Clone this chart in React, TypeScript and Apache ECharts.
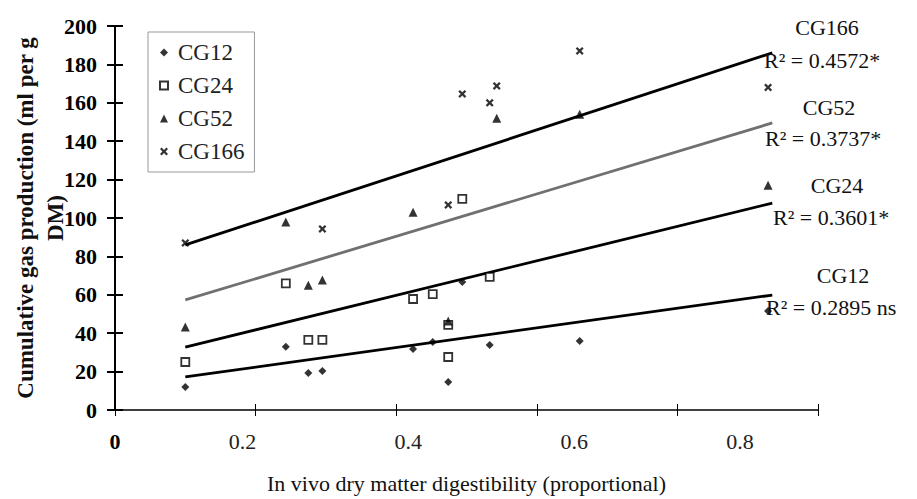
import React, { useEffect, useRef } from 'react';
import * as echarts from 'echarts';

const seriesNames = ['CG12', 'CG24', 'CG52', 'CG166'];

const cg12X = [0.10, 0.243, 0.275, 0.295, 0.424, 0.452, 0.474, 0.494, 0.533, 0.661, 0.929];
const cg12Y = [12, 33, 19.3, 20.3, 31.8, 35.4, 14.6, 66.7, 33.9, 35.9, 51.6];

const cg24X = [0.10, 0.243, 0.275, 0.295, 0.424, 0.452, 0.474, 0.474, 0.494, 0.533];
const cg24Y = [25, 66, 36.5, 36.5, 57.8, 60.4, 44.3, 27.6, 110, 69.3];

const cg52X = [0.10, 0.243, 0.275, 0.295, 0.424, 0.474, 0.543, 0.661, 0.929];
const cg52Y = [43.2, 97.9, 65, 67.7, 103, 46.4, 152, 154, 117];

const cg166X = [0.10, 0.295, 0.474, 0.494, 0.533, 0.543, 0.661, 0.929];
const cg166Y = [87, 94.3, 106.8, 164.6, 160, 168.8, 187, 168];

// regression lines: y = intercept + slope * x, drawn over the observed x range
const fitSlope = [51.1, 89.8, 110.4, 119.8];
const fitIntercept = [12.1, 23.8, 46.3, 74.0];
const fitXRange = [0.10, 0.935];

const xTickLabels = ['0', '0.2', '0.4', '0.6', '0.8'];
const yMin = 0;
const yMax = 200;
const yStep = 20;

const annotationNames = ['CG166', 'CG52', 'CG24', 'CG12'];
const annotationR2 = ['R\u00B2 = 0.4572*', 'R\u00B2 = 0.3737*', 'R\u00B2 = 0.3601*', 'R\u00B2 = 0.2895 ns'];

const FONT = '"Liberation Serif", "Times New Roman", serif';
const crossPath = 'path://M2,0 L5,3 L8,0 L10,2 L7,5 L10,8 L8,10 L5,7 L2,10 L0,8 L3,5 L0,2 Z';

export default function App() {
  const ref = useRef<HTMLDivElement>(null);

  useEffect(() => {
    if (!ref.current) return;
    const chart = echarts.init(ref.current, undefined, { renderer: 'svg' });

    const xs = [cg12X, cg24X, cg52X, cg166X];
    const ys = [cg12Y, cg24Y, cg52Y, cg166Y];
    const symbols = ['diamond', 'rect', 'triangle', crossPath];
    const sizes = [8, 8, 9, 8];

    const scatterSeries = seriesNames.map((name, i) => ({
      name,
      type: 'scatter',
      xAxisIndex: 0,
      yAxisIndex: 0,
      symbol: symbols[i],
      symbolSize: sizes[i],
      itemStyle:
        i === 1
          ? { color: '#fff', borderColor: '#000', borderWidth: 1.8 }
          : { color: '#000' },
      data: xs[i].map((x, k) => [x, ys[i][k]]),
      z: 5,
    }));

    const lineColors = ['#000', '#000', '#707070', '#000'];
    const lineSeries = seriesNames.map((name, i) => ({
      name: name + ' fit',
      type: 'line',
      xAxisIndex: 0,
      yAxisIndex: 0,
      symbol: 'none',
      silent: true,
      lineStyle: { color: lineColors[i], width: 2.8 },
      data: fitXRange.map((x) => [x, fitIntercept[i] + fitSlope[i] * x]),
      z: 3,
    }));

    const annX = [827, 829, 837, 843];
    const annY = [27, 107, 185, 275];
    const r2X = [764, 765, 773, 766];
    const r2Y = [60, 138, 217, 307];
    const graphics: any[] = [];
    annotationNames.forEach((t, i) => {
      graphics.push({
        type: 'text',
        x: annX[i],
        y: annY[i],
        style: { text: t, font: `22px ${FONT}`, fill: '#111', align: 'center', verticalAlign: 'middle' },
        z: 10,
      });
      graphics.push({
        type: 'text',
        x: r2X[i],
        y: r2Y[i],
        style: { text: annotationR2[i], font: `22px ${FONT}`, fill: '#111', align: 'left', verticalAlign: 'middle' },
        z: 10,
      });
    });

    const option: any = {
      animation: false,
      backgroundColor: '#fff',
      textStyle: { fontFamily: FONT },
      grid: [
        { left: 115, right: 99, top: 26, bottom: 89, containLabel: false, outerBoundsMode: 'none' },
        { left: 76.5, right: 11, top: 26, bottom: 89, containLabel: false, outerBoundsMode: 'none' },
      ],
      legend: {
        data: seriesNames,
        orient: 'vertical',
        left: 148,
        top: 32,
        padding: [8, 10, 8, 11],
        itemGap: 8,
        itemWidth: 8,
        itemHeight: 8,
        borderColor: '#999',
        borderWidth: 1,
        backgroundColor: '#fff',
        textStyle: { fontFamily: FONT, fontSize: 23, color: '#222', lineHeight: 25, padding: [0, 0, 0, 5] },
      },
      xAxis: [
        {
          type: 'value',
          gridIndex: 0,
          min: 0,
          max: 1,
          interval: 0.2,
          name: 'In vivo dry matter digestibility (proportional)',
          nameLocation: 'middle',
          nameGap: 62,
          nameMoveOverlap: false,
          nameTextStyle: { fontFamily: FONT, fontSize: 22, color: '#111' },
          axisLine: { show: true, lineStyle: { color: '#000', width: 1.5 } },
          axisTick: { show: true, length: 6, lineStyle: { color: '#000', width: 1 } },
          axisLabel: {
            show: true,
            margin: 20,
            fontFamily: FONT,
            fontSize: 22,
            fontWeight: 'bold',
            color: '#000',
            formatter: (v: number) => (Math.abs(v) < 1e-9 ? xTickLabels[0] : ''),
          },
          splitLine: { show: false },
        },
        {
          type: 'value',
          gridIndex: 0,
          position: 'bottom',
          min: 0,
          max: 1,
          interval: 0.2,
          axisLine: { show: false },
          axisTick: { show: true, inside: true, length: 6, lineStyle: { color: '#000', width: 1 } },
          axisLabel: { show: false },
          splitLine: { show: false },
        },
        {
          type: 'value',
          gridIndex: 1,
          min: 0,
          max: 1,
          interval: 0.2,
          axisLine: { show: false },
          axisTick: { show: false },
          axisLabel: {
            show: true,
            margin: 20,
            fontFamily: FONT,
            fontSize: 22,
            color: '#222',
            formatter: (v: number) => {
              const idx = Math.round(v / 0.2);
              if (idx === 0 || idx >= xTickLabels.length) return '';
              return xTickLabels[idx];
            },
          },
          splitLine: { show: false },
        },
      ],
      yAxis: [
        {
          type: 'value',
          gridIndex: 0,
          min: yMin,
          max: yMax,
          interval: yStep,
          name: 'Cumulative gas production (ml per g\nDM)',
          nameLocation: 'middle',
          nameRotate: 90,
          nameGap: 45,
          nameMoveOverlap: false,
          nameTextStyle: { fontFamily: FONT, fontSize: 23, fontWeight: 'bold', color: '#111', lineHeight: 30 },
          axisLine: { show: true, lineStyle: { color: '#000', width: 2 } },
          axisTick: { show: true, length: 8, lineStyle: { color: '#000', width: 2 } },
          axisLabel: { margin: 18, fontFamily: FONT, fontSize: 22, fontWeight: 'bold', color: '#000' },
          splitLine: { show: false },
        },
        {
          type: 'value',
          gridIndex: 0,
          position: 'left',
          min: yMin,
          max: yMax,
          interval: yStep,
          axisLine: { show: false },
          axisTick: { show: true, inside: true, length: 8, lineStyle: { color: '#000', width: 2 } },
          axisLabel: { show: false },
          splitLine: { show: false },
        },
        {
          type: 'value',
          gridIndex: 1,
          min: yMin,
          max: yMax,
          show: false,
        },
      ],
      series: [...lineSeries, ...scatterSeries],
      graphic: graphics,
    };

    chart.setOption(option);
    return () => chart.dispose();
  }, []);

  return <div ref={ref} style={{ position: 'fixed', left: 0, top: 0, width: 917, height: 499 }} />;
}
